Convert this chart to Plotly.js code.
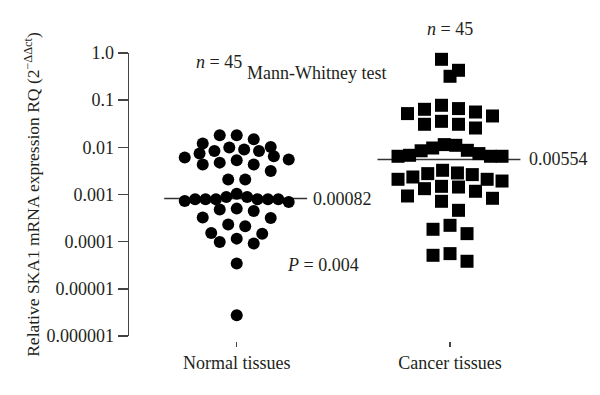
<!DOCTYPE html>
<html><head><meta charset="utf-8">
<script src="https://cdn.plot.ly/plotly-3.0.1.min.js"></script>
<style>html,body{margin:0;padding:0;background:#fff}#chart{width:600px;height:395px}</style>
</head><body><div id="chart"></div>
<script>
// ---- data ----
const categories = ["Normal tissues", "Cancer tissues"];
const normalValues = [
  0.0180, 0.0180, 0.0148, 0.0120, 0.01016, 0.00988, 0.00896, 0.00836, 0.00836, 0.00737,
  0.00646, 0.00606, 0.00550, 0.00531, 0.00474, 0.00431, 0.00431, 0.00315, 0.00207, 0.00207,
  0.00104, 0.000885, 0.000885, 0.000791, 0.000791, 0.000791, 0.000791, 0.000791, 0.000791, 0.000728,
  0.000693, 0.000502, 0.000479, 0.000447, 0.000324, 0.000318, 0.000230, 0.000212, 0.000153, 0.000148,
  0.000116, 0.0000984, 0.0000910, 0.0000343, 0.00000275
];
const cancerValues = [
  0.735, 0.430, 0.321, 0.0779, 0.0663, 0.0640, 0.0561, 0.0519, 0.0462, 0.0356,
  0.0308, 0.0308, 0.0257, 0.01143, 0.01104, 0.00968, 0.00865, 0.00845, 0.00737, 0.00678,
  0.00646, 0.00646, 0.00646, 0.00326, 0.00286, 0.00277, 0.00264, 0.00235, 0.00210, 0.00210,
  0.00193, 0.00149, 0.00144, 0.00133, 0.00117, 0.000930, 0.000831, 0.000718, 0.000462, 0.000222,
  0.000183, 0.000148, 0.0000558, 0.0000514, 0.0000384
];
const medians = [0.00082, 0.00554];
const medianLabels = ["0.00082", "0.00554"];
const sampleSizes = [45, 45];
const pValueText = "0.004";
const testName = "Mann-Whitney test";
const yTickValues = [1e-6, 1e-5, 1e-4, 1e-3, 1e-2, 1e-1, 1];
const yTickLabels = ["0.000001", "0.00001", "0.0001", "0.001", "0.01", "0.1", "1.0"];

// ---- layout geometry ----
const W = 600, H = 395;
const margin = {l: 129, r: 10, t: 53, b: 54, pad: 0};
const plotW = W - margin.l - margin.r;
const plotH = H - margin.t - margin.b;
const yDomainLow = 5 / plotH;
const yRange = [-6, 0];
const pxPerUnitX = 213.3;
const xStart = 0.495;
const xRange = [xStart, xStart + plotW / pxPerUnitX];
const pxPerDecade = plotH * (1 - yDomainLow) / (yRange[1] - yRange[0]);

// beeswarm-like arrangement (rows binned by value, spread horizontally)
function swarm(values, center, binPx, spacingPx, maxWidthPx) {
  const idx = values.map((v, i) => i).sort((a, b) => values[b] - values[a]);
  const pix = v => (yRange[1] - Math.log10(v)) * pxPerDecade;
  const xs = new Array(values.length);
  let g = 0;
  while (g < idx.length) {
    const start = pix(values[idx[g]]);
    let e = g;
    while (e < idx.length && pix(values[idx[e]]) - start < binPx) e++;
    const grp = idx.slice(g, e);
    const n = grp.length;
    const sp = n > 1 ? Math.min(spacingPx, maxWidthPx / (n - 1)) : 0;
    const slots = [];
    for (let k = 0; k < n; k++) slots.push((k - (n - 1) / 2) * sp);
    const order = slots.map((s, k) => k).sort((a, b) => Math.abs(slots[a]) - Math.abs(slots[b]) || a - b);
    grp.forEach((pi, j) => { xs[pi] = center + slots[order[j]] / pxPerUnitX; });
    g = e;
  }
  return xs;
}

const textColor = "#231f20";
const font = {family: "Liberation Serif, Times New Roman, serif", size: 18, color: textColor};
const halfLine = [0.34, 0.33];

const traces = [];
medians.forEach((m, i) => {
  traces.push({
    x: [i + 1 - halfLine[0], i + 1 + halfLine[1]], y: [m, m],
    mode: "lines", type: "scatter", line: {color: "#333", width: 1.5},
    hoverinfo: "skip", showlegend: false
  });
});
traces.push({
  x: swarm(normalValues, 1, 12, 17, 104), y: normalValues,
  mode: "markers", type: "scatter", name: categories[0],
  marker: {symbol: "circle", size: 12, color: "#000"}, cliponaxis: false
});
traces.push({
  x: swarm(cancerValues, 2, 13, 17, 104), y: cancerValues,
  mode: "markers", type: "scatter", name: categories[1],
  marker: {symbol: "square", size: 13, color: "#000"}, cliponaxis: false
});

const annotations = [
  {x: 0.917, y: -0.20, xref: "x", yref: "y", text: "<i>n</i> = " + sampleSizes[0], showarrow: false, font: font},
  {x: 2.0, y: (H - margin.b - 29) / plotH, xref: "x", yref: "paper", yanchor: "middle", text: "<i>n</i> = " + sampleSizes[1], showarrow: false, font: font},
  {x: 1.372, y: -0.43, xref: "x", yref: "y", text: testName, showarrow: false, font: font},
  {x: 1.405, y: -4.50, xref: "x", yref: "y", text: "<i>P</i> = " + pValueText, showarrow: false, font: font},
  {x: 1 + halfLine[1] + 0.02, y: Math.log10(medians[0]), xref: "x", yref: "y", text: medianLabels[0], showarrow: false, xanchor: "left", font: font},
  {x: 2 + halfLine[1] + 0.03, y: Math.log10(medians[1]), xref: "x", yref: "y", text: medianLabels[1], showarrow: false, xanchor: "left", font: font}
];

const layout = {
  width: W, height: H, margin: margin,
  paper_bgcolor: "#fff", plot_bgcolor: "#fff",
  showlegend: false, hovermode: false,
  font: font,
  xaxis: {
    range: xRange, anchor: "free", position: 0,
    tickvals: [1, 2], ticktext: categories,
    ticks: "outside", ticklen: 5, tickwidth: 1.2, tickcolor: "#444",
    showline: false, showgrid: false, zeroline: false,
    tickfont: font
  },
  yaxis: {
    type: "log", range: yRange, domain: [yDomainLow, 1],
    tickvals: yTickValues, ticktext: yTickLabels,
    ticks: "outside", ticklen: 10, tickwidth: 1.5, tickcolor: "#444",
    showline: true, linecolor: "#444", linewidth: 1.5,
    showgrid: false, zeroline: false,
    tickfont: font,
    title: {text: "Relative SKA1 mRNA expression RQ (2<sup>−ΔΔct</sup>)", font: {family: font.family, size: 17.5, color: textColor}, standoff: 2}
  },
  annotations: annotations
};

Plotly.newPlot("chart", traces, layout, {staticPlot: true, displayModeBar: false});
</script>
</body></html>
